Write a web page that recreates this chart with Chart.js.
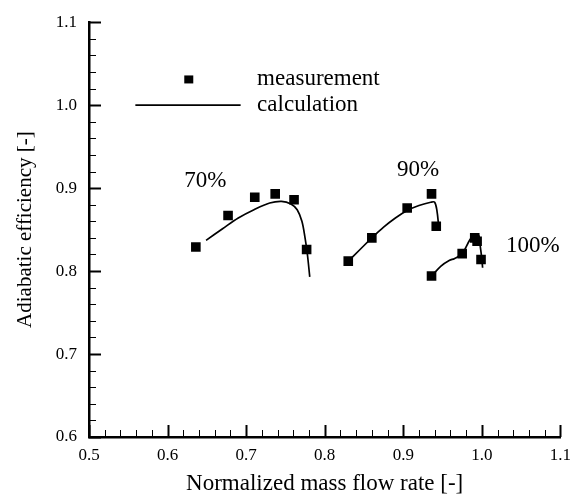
<!DOCTYPE html>
<html>
<head>
<meta charset="utf-8">
<script src="https://cdn.jsdelivr.net/npm/chart.js@4/dist/chart.umd.min.js"></script>
<style>
  html, body { margin: 0; padding: 0; background: #fff; }
  #wrap { width: 579px; height: 498px; }
</style>
</head>
<body>
<div id="wrap"><canvas id="effChart"></canvas></div>
<script>
// measured points (squares)
const meas70X = [0.636, 0.677, 0.711, 0.737, 0.761, 0.777];
const meas70Y = [0.829, 0.867, 0.889, 0.893, 0.886, 0.826];
const meas90X = [0.830, 0.860, 0.905, 0.936, 0.942];
const meas90Y = [0.812, 0.840, 0.876, 0.893, 0.854];
const meas100X = [0.936, 0.975, 0.991, 0.994, 0.999];
const meas100Y = [0.794, 0.821, 0.840, 0.836, 0.814];

// calculated speed lines
const calc70X = [0.649, 0.670, 0.690, 0.710, 0.730, 0.745, 0.757, 0.765, 0.771, 0.775, 0.778, 0.781];
const calc70Y = [0.837, 0.851, 0.864, 0.874, 0.882, 0.884, 0.881, 0.874, 0.860, 0.840, 0.820, 0.793];
const calc90X = [0.830, 0.845, 0.860, 0.875, 0.890, 0.905, 0.920, 0.935, 0.940, 0.943, 0.945];
const calc90Y = [0.812, 0.826, 0.840, 0.853, 0.864, 0.873, 0.879, 0.883, 0.883, 0.872, 0.855];
const calc100X = [0.936, 0.948, 0.959, 0.965, 0.975, 0.985, 0.990, 0.996, 0.998, 1.000, 1.001];
const calc100Y = [0.794, 0.806, 0.813, 0.815, 0.821, 0.838, 0.843, 0.843, 0.830, 0.815, 0.804];

// speed labels, in data coordinates
const speedLabels = ['70%', '90%', '100%'];
const speedLabelX = [0.648, 0.919, 1.065];
const speedLabelY = [0.909, 0.922, 0.830];

const legendLabels = ['measurement', 'calculation'];

const toXY = (xs, ys) => xs.map((x, i) => ({ x: x, y: ys[i] }));
const serif = '"Liberation Serif", "Times New Roman", serif';

function measSet(xs, ys) {
  return {
    data: toXY(xs, ys),
    showLine: false,
    pointStyle: 'rect',
    pointRadius: 6.8,
    pointHoverRadius: 6.8,
    backgroundColor: '#000',
    borderColor: '#000',
    borderWidth: 0,
  };
}
function calcSet(xs, ys) {
  return {
    data: toXY(xs, ys),
    showLine: true,
    pointRadius: 0,
    borderColor: '#000',
    borderWidth: 1.7,
    tension: 0.35,
    fill: false,
  };
}

// minor/major inward ticks, labels and in-plot legend
const decorPlugin = {
  id: 'decor',
  afterDraw(chart) {
    const ctx = chart.ctx;
    const xs = chart.scales.x, ys = chart.scales.y;
    const area = chart.chartArea;
    ctx.save();
    ctx.strokeStyle = '#000';
    for (let i = 0; i <= 30; i++) {
      const v = 0.5 + i * 0.02;
      const px = Math.round(xs.getPixelForValue(v)) + 0.5;
      const major = i % 5 === 0;
      ctx.lineWidth = major ? 2 : 1;
      ctx.beginPath();
      ctx.moveTo(px, area.bottom);
      ctx.lineTo(px, area.bottom - (major ? 12 : 7));
      ctx.stroke();
    }
    for (let i = 0; i <= 25; i++) {
      const v = 0.6 + i * 0.02;
      const py = Math.round(ys.getPixelForValue(v)) + 0.5;
      const major = i % 5 === 0;
      ctx.lineWidth = major ? 2 : 1;
      ctx.beginPath();
      ctx.moveTo(area.left, py);
      ctx.lineTo(area.left + (major ? 12 : 7), py);
      ctx.stroke();
    }

    ctx.fillStyle = '#000';
    ctx.font = '23px ' + serif;
    ctx.textAlign = 'center';
    ctx.textBaseline = 'middle';
    speedLabels.forEach((t, i) => {
      ctx.fillText(t, xs.getPixelForValue(speedLabelX[i]), ys.getPixelForValue(speedLabelY[i]));
    });

    // legend
    const mx = xs.getPixelForValue(0.627), my = ys.getPixelForValue(1.031);
    ctx.fillRect(mx - 4.5, my - 4, 9, 8);
    const ly = ys.getPixelForValue(1.0);
    ctx.lineWidth = 1.6;
    ctx.beginPath();
    ctx.moveTo(xs.getPixelForValue(0.559), ly);
    ctx.lineTo(xs.getPixelForValue(0.693), ly);
    ctx.stroke();
    ctx.textAlign = 'left';
    ctx.fillText(legendLabels[0], xs.getPixelForValue(0.714), my);
    ctx.fillText(legendLabels[1], xs.getPixelForValue(0.714), ly);
    ctx.restore();
  }
};

new Chart(document.getElementById('effChart'), {
  type: 'scatter',
  data: {
    datasets: [
      measSet(meas70X, meas70Y),
      measSet(meas90X, meas90Y),
      measSet(meas100X, meas100Y),
      calcSet(calc70X, calc70Y),
      calcSet(calc90X, calc90Y),
      calcSet(calc100X, calc100Y),
    ],
  },
  options: {
    responsive: true,
    maintainAspectRatio: false,
    animation: false,
    layout: { padding: { top: 15, right: 16, left: 0, bottom: 0 } },
    plugins: {
      legend: { display: false },
      tooltip: { enabled: false },
    },
    scales: {
      x: {
        type: 'linear',
        min: 0.5,
        max: 1.1,
        afterFit: (s) => { s.height = 61; },
        grid: { display: false, drawTicks: false },
        border: { display: true, color: '#000', width: 2.5 },
        ticks: {
          stepSize: 0.1,
          padding: 8,
          color: '#000',
          font: { family: serif, size: 17 },
          callback: (v) => Number(v).toFixed(1),
        },
        title: {
          display: true,
          text: 'Normalized mass flow rate [-]',
          color: '#000',
          font: { family: serif, size: 23 },
          padding: { top: 0, bottom: 0 },
        },
      },
      y: {
        type: 'linear',
        min: 0.6,
        max: 1.1,
        afterFit: (s) => { s.width = 89; },
        grid: { display: false, drawTicks: false },
        border: { display: true, color: '#000', width: 2.5 },
        ticks: {
          stepSize: 0.1,
          padding: 12,
          color: '#000',
          font: { family: serif, size: 17 },
          callback: (v) => Number(v).toFixed(1),
        },
        title: {
          display: true,
          text: 'Adiabatic efficiency [-]',
          color: '#000',
          font: { family: serif, size: 21 },
          padding: { top: 13, bottom: 0 },
        },
      },
    },
  },
  plugins: [decorPlugin],
});
</script>
</body>
</html>
